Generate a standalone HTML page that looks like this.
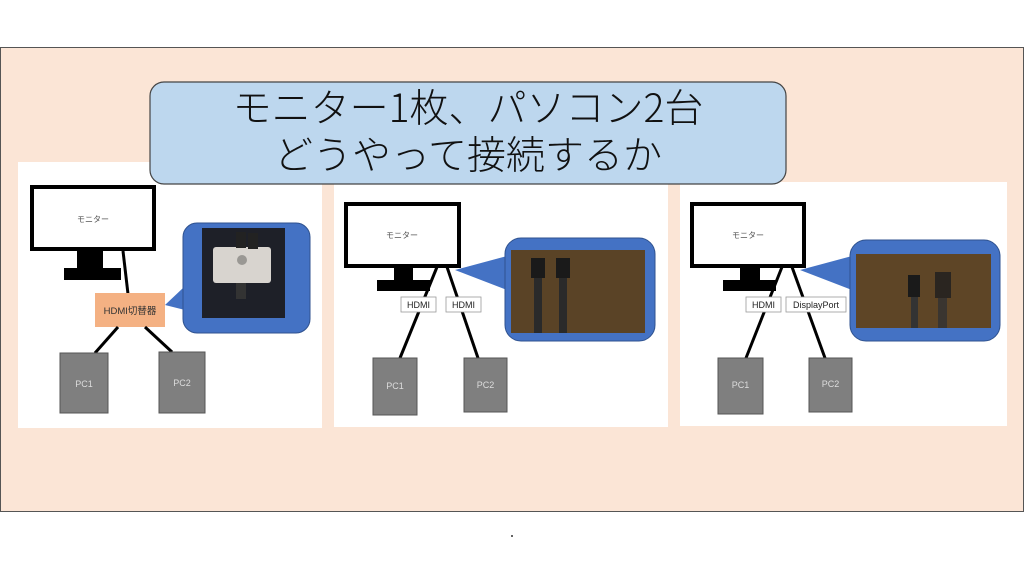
<!DOCTYPE html>
<html><head><meta charset="utf-8"><style>
html,body{margin:0;padding:0;background:#fff;}
svg{display:block;}
text{font-family:"Liberation Sans","Noto Sans CJK JP",sans-serif;}
</style></head><body>
<svg width="1024" height="576" viewBox="0 0 1024 576" xmlns="http://www.w3.org/2000/svg">
<rect x="0" y="0" width="1024" height="576" fill="#fff"/>
<rect x="0.5" y="47.5" width="1023" height="464" fill="#fbe5d6" stroke="#555" stroke-width="1"/>

<!-- Panel 1 -->
<rect x="18" y="162" width="304" height="266" fill="#fff"/>
<rect x="32" y="187" width="122" height="62" fill="#fff" stroke="#000" stroke-width="4"/>
<text x="93" y="222" font-size="8" text-anchor="middle" fill="#555">モニター</text>
<rect x="77" y="251" width="26" height="18" fill="#000"/>
<rect x="64" y="268" width="57" height="12" fill="#000"/>
<line x1="123" y1="251" x2="128" y2="294" stroke="#000" stroke-width="3"/>
<rect x="95" y="293" width="70" height="34" fill="#f4b183"/>
<text x="130" y="314" font-size="9.5" text-anchor="middle" fill="#333">HDMI切替器</text>
<line x1="118" y1="327" x2="95" y2="353" stroke="#000" stroke-width="3"/>
<line x1="145" y1="327" x2="172" y2="352" stroke="#000" stroke-width="3"/>
<rect x="60" y="353" width="48" height="60" fill="#7f7f7f" stroke="#555"/>
<text x="84" y="387" font-size="9" text-anchor="middle" fill="#ddd">PC1</text>
<rect x="159" y="352" width="46" height="61" fill="#7f7f7f" stroke="#555"/>
<text x="182" y="386" font-size="9" text-anchor="middle" fill="#ddd">PC2</text>
<path d="M183 288 L165 305 L185 310 Z" fill="#4472c4"/>
<rect x="183" y="223" width="127" height="110" rx="14" fill="#4472c4" stroke="#2f528f"/>
<rect x="202" y="228" width="83" height="90" fill="#1e2028"/>
<rect x="213" y="247" width="58" height="36" rx="3" fill="#d8d4cf"/>
<rect x="236" y="232" width="10" height="16" fill="#222"/>
<rect x="248" y="233" width="10" height="16" fill="#222"/>
<rect x="236" y="283" width="10" height="16" fill="#333"/>
<circle cx="242" cy="260" r="5" fill="#9a9894"/>

<!-- Panel 2 -->
<rect x="334" y="182" width="334" height="245" fill="#fff"/>
<rect x="346" y="204" width="113" height="62" fill="#fff" stroke="#000" stroke-width="4"/>
<text x="402" y="238" font-size="8" text-anchor="middle" fill="#555">モニター</text>
<rect x="394" y="268" width="19" height="13" fill="#000"/>
<rect x="377" y="280" width="53" height="11" fill="#000"/>
<line x1="437" y1="267" x2="400" y2="358" stroke="#000" stroke-width="3"/>
<line x1="447" y1="267" x2="478" y2="358" stroke="#000" stroke-width="3"/>
<rect x="401" y="297" width="35" height="15" fill="#fff" stroke="#999" stroke-width="0.8"/>
<text x="418.5" y="308" font-size="9" text-anchor="middle" fill="#222">HDMI</text>
<rect x="446" y="297" width="35" height="15" fill="#fff" stroke="#999" stroke-width="0.8"/>
<text x="463.5" y="308" font-size="9" text-anchor="middle" fill="#222">HDMI</text>
<rect x="373" y="358" width="44" height="57" fill="#7f7f7f" stroke="#555"/>
<text x="395" y="389" font-size="9" text-anchor="middle" fill="#ddd">PC1</text>
<rect x="464" y="358" width="43" height="54" fill="#7f7f7f" stroke="#555"/>
<text x="485.5" y="388" font-size="9" text-anchor="middle" fill="#ddd">PC2</text>
<path d="M507 256 L455 270 L507 290 Z" fill="#4472c4"/>
<rect x="505" y="238" width="150" height="103" rx="16" fill="#4472c4" stroke="#2f528f"/>
<rect x="511" y="250" width="134" height="83" fill="#5a4326"/>
<rect x="531" y="258" width="14" height="20" fill="#1a1a1a"/>
<rect x="556" y="258" width="14" height="20" fill="#1a1a1a"/>
<rect x="534" y="278" width="8" height="55" fill="#2a2a2a"/>
<rect x="559" y="278" width="8" height="55" fill="#2a2a2a"/>

<!-- Panel 3 -->
<rect x="680" y="182" width="327" height="244" fill="#fff"/>
<rect x="692" y="204" width="112" height="62" fill="#fff" stroke="#000" stroke-width="4"/>
<text x="748" y="238" font-size="8" text-anchor="middle" fill="#555">モニター</text>
<rect x="740" y="268" width="20" height="13" fill="#000"/>
<rect x="723" y="280" width="53" height="11" fill="#000"/>
<line x1="782" y1="267" x2="746" y2="358" stroke="#000" stroke-width="3"/>
<line x1="792" y1="267" x2="825" y2="358" stroke="#000" stroke-width="3"/>
<rect x="746" y="297" width="35" height="15" fill="#fff" stroke="#999" stroke-width="0.8"/>
<text x="763.5" y="308" font-size="9" text-anchor="middle" fill="#222">HDMI</text>
<rect x="786" y="297" width="60" height="15" fill="#fff" stroke="#999" stroke-width="0.8"/>
<text x="816" y="308" font-size="9" text-anchor="middle" fill="#222">DisplayPort</text>
<rect x="718" y="358" width="45" height="56" fill="#7f7f7f" stroke="#555"/>
<text x="740.5" y="388" font-size="9" text-anchor="middle" fill="#ddd">PC1</text>
<rect x="809" y="358" width="43" height="54" fill="#7f7f7f" stroke="#555"/>
<text x="830.5" y="387" font-size="9" text-anchor="middle" fill="#ddd">PC2</text>
<path d="M852 256 L800 270 L852 290 Z" fill="#4472c4"/>
<rect x="850" y="240" width="150" height="101" rx="16" fill="#4472c4" stroke="#2f528f"/>
<rect x="856" y="254" width="135" height="74" fill="#5e4526"/>
<rect x="908" y="275" width="12" height="22" fill="#1a1a1a"/>
<rect x="935" y="272" width="16" height="26" fill="#2a2520"/>
<rect x="911" y="297" width="7" height="31" fill="#333"/>
<rect x="938" y="298" width="9" height="30" fill="#3a3530"/>

<!-- Title -->
<rect x="150" y="82" width="636" height="102" rx="14" fill="#bdd7ee" stroke="#444" stroke-width="1.2"/>
<text x="468" y="122" font-size="39" text-anchor="middle" fill="#111" style="font-family:'Noto Sans CJK JP',sans-serif;font-weight:300">モニター1枚、パソコン2台</text>
<text x="468" y="169" font-size="39" text-anchor="middle" fill="#111" style="font-family:'Noto Sans CJK JP',sans-serif;font-weight:300">どうやって接続するか</text>

<circle cx="512" cy="536" r="1" fill="#333"/>
</svg>
</body></html>
